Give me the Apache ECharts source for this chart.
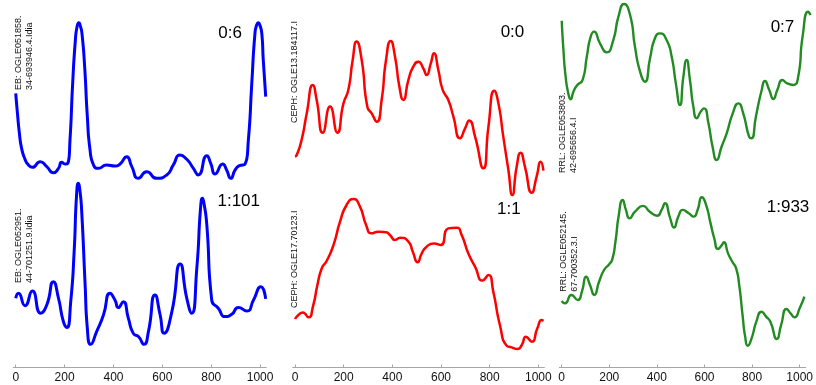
<!DOCTYPE html>
<html>
<head>
<meta charset="utf-8">
<script src="https://cdn.jsdelivr.net/npm/echarts@6/dist/echarts.min.js"></script>
<style>
  html, body { margin: 0; padding: 0; background: #fff; }
  #chart { width: 816px; height: 385px; }
</style>
</head>
<body>
<div id="chart"></div>
<script>
// Phase-folded light curves, normalised flux per star (0 = faintest, 1 = brightest)

// EB: OGLE051858.34-693946.4  (class 0, #6)
const ebTopPhase = [0, 7, 15, 24, 38, 52, 68, 100, 127, 154, 175, 188, 202, 213, 222, 233, 244, 251, 258, 265, 271, 282, 293, 304, 318, 338, 372, 406, 427, 454, 475, 502, 536, 577, 618, 645, 672, 700, 727, 747, 782, 798, 816, 847, 863, 880, 898, 915, 938, 952, 966, 979, 986, 993, 1000, 1007, 1013, 1023];
const ebTopFlux = [0.548, 0.42, 0.292, 0.196, 0.126, 0.09, 0.075, 0.111, 0.079, 0.04, 0.068, 0.107, 0.096, 0.1, 0.249, 0.612, 0.889, 0.975, 1.0, 0.975, 0.932, 0.719, 0.399, 0.186, 0.09, 0.068, 0.09, 0.083, 0.096, 0.143, 0.079, 0.004, 0.047, 0.004, 0.026, 0.09, 0.154, 0.126, 0.068, 0.026, 0.149, 0.1, 0.032, 0.096, 0.058, 0.004, 0.058, 0.085, 0.094, 0.249, 0.612, 0.932, 0.985, 1.0, 0.98, 0.932, 0.761, 0.527];

// EB: OGLE052951.44-701251.9  (class 1, #101)
const ebBotPhase = [0, 11, 38, 68, 102, 127, 154, 175, 195, 209, 225, 239, 249, 256, 263, 270, 284, 293, 307, 331, 359, 386, 406, 420, 440, 461, 481, 502, 525, 543, 570, 591, 607, 639, 673, 700, 720, 741, 757, 764, 771, 782, 802, 829, 857, 884, 911, 946, 973, 1003, 1023];
const ebBotFlux = [0.286, 0.317, 0.24, 0.331, 0.193, 0.244, 0.389, 0.286, 0.141, 0.104, 0.265, 0.576, 0.93, 1.0, 0.95, 0.824, 0.368, 0.099, 0.0, 0.079, 0.182, 0.317, 0.275, 0.228, 0.265, 0.161, 0.068, 0.048, 0.0, 0.079, 0.306, 0.182, 0.068, 0.203, 0.499, 0.286, 0.193, 0.472, 0.86, 0.907, 0.87, 0.741, 0.275, 0.224, 0.172, 0.186, 0.228, 0.207, 0.275, 0.358, 0.282];

// CEPH: OGLE13.184117  (class 0, #0)
const cephTopPhase = [0, 7, 27, 48, 73, 89, 114, 144, 174, 199, 219, 237, 253, 274, 297, 315, 336, 356, 374, 393, 411, 429, 445, 466, 486, 507, 527, 541, 558, 571, 589, 607, 630, 651, 678, 699, 716, 740, 774, 795, 819, 836, 856, 877, 893, 911, 927, 945, 973, 993, 1010, 1021];
const cephTopFlux = [0.249, 0.26, 0.357, 0.53, 0.714, 0.617, 0.405, 0.574, 0.405, 0.595, 0.682, 0.877, 0.996, 0.877, 0.574, 0.53, 0.476, 0.617, 0.877, 1.0, 0.898, 0.703, 0.617, 0.747, 0.833, 0.866, 0.823, 0.779, 0.855, 0.92, 0.812, 0.682, 0.617, 0.509, 0.368, 0.433, 0.483, 0.379, 0.173, 0.444, 0.677, 0.595, 0.379, 0.162, 0.0, 0.184, 0.275, 0.184, 0.015, 0.119, 0.216, 0.158];

// CEPH: OGLE17.70123  (class 1, #1)
const cephBotPhase = [0, 14, 32, 55, 75, 92, 110, 130, 158, 185, 212, 240, 267, 292, 315, 342, 374, 390, 411, 432, 466, 484, 504, 521, 541, 571, 599, 630, 664, 685, 712, 740, 771, 795, 815, 842, 870, 890, 914, 932, 949, 973, 996, 1014, 1021];
const cephBotFlux = [0.2, 0.227, 0.244, 0.211, 0.293, 0.427, 0.538, 0.587, 0.693, 0.849, 0.96, 1.0, 0.949, 0.827, 0.771, 0.782, 0.778, 0.76, 0.727, 0.742, 0.716, 0.649, 0.578, 0.638, 0.682, 0.704, 0.693, 0.804, 0.809, 0.76, 0.638, 0.549, 0.456, 0.493, 0.382, 0.16, 0.022, 0.011, 0.0, 0.027, 0.082, 0.049, 0.138, 0.193, 0.187];

// RRL: OGLE053803.42-695656.4  (class 0, #7)
const rrlTopPhase = [0, 7, 16, 27, 37, 48, 64, 86, 103, 119, 133, 157, 185, 212, 233, 256, 281, 301, 322, 342, 363, 383, 404, 431, 452, 469, 486, 500, 513, 527, 541, 555, 571, 585, 603, 620, 637, 657, 678, 703, 726, 746, 770, 780, 798, 822, 835, 853, 870, 886, 907, 927, 952, 972, 990, 1013, 1023];
const rrlTopFlux = [0.893, 0.705, 0.534, 0.427, 0.389, 0.438, 0.481, 0.513, 0.662, 0.791, 0.823, 0.748, 0.69, 0.769, 0.919, 1.0, 0.929, 0.726, 0.566, 0.502, 0.652, 0.78, 0.812, 0.769, 0.662, 0.491, 0.353, 0.534, 0.641, 0.513, 0.342, 0.267, 0.31, 0.331, 0.235, 0.085, 0.0, 0.085, 0.171, 0.299, 0.363, 0.299, 0.15, 0.139, 0.278, 0.449, 0.506, 0.449, 0.391, 0.449, 0.513, 0.491, 0.481, 0.534, 0.791, 0.951, 0.929];

// RRL: OGLE052145.67-700352.3  (class 1, #933)
const rrlBotPhase = [0, 14, 41, 68, 85, 103, 119, 137, 157, 178, 199, 212, 226, 240, 256, 270, 285, 308, 342, 370, 401, 420, 434, 456, 472, 490, 509, 534, 555, 571, 589, 607, 624, 641, 657, 671, 682, 699, 717, 733, 746, 760, 771, 782, 798, 818, 840, 859, 877, 904, 922, 945, 962, 979, 1000, 1020];
const rrlBotFlux = [0.301, 0.285, 0.342, 0.308, 0.364, 0.465, 0.409, 0.342, 0.431, 0.51, 0.548, 0.578, 0.701, 0.881, 0.982, 0.915, 0.858, 0.903, 0.942, 0.903, 0.876, 0.915, 0.96, 0.858, 0.796, 0.87, 0.915, 0.892, 0.87, 0.915, 1.0, 0.948, 0.836, 0.724, 0.652, 0.674, 0.697, 0.622, 0.566, 0.521, 0.409, 0.207, 0.061, 0.0, 0.049, 0.162, 0.229, 0.196, 0.162, 0.045, 0.139, 0.247, 0.218, 0.191, 0.252, 0.33];

// Tick labels along the phase axis
const phaseTicks = [0, 200, 400, 600, 800, 1000];

// Star identifiers (drawn rotated) and class:index tags
const starNames = [
  ['EB: OGLE051858.', '34-693946.4.Idia'],
  ['EB: OGLE052951.', '44-701251.9.Idia'],
  ['CEPH: OGLE13.184117.I'],
  ['CEPH: OGLE17.70123.I'],
  ['RRL: OGLE053803.', '42-695656.4.I'],
  ['RRL: OGLE052145.', '67-700352.3.I']
];
const classTags = ['0:6', '1:101', '0:0', '1:1', '0:7', '1:933'];

const seriesData = [
  [ebTopPhase, ebTopFlux],
  [ebBotPhase, ebBotFlux],
  [cephTopPhase, cephTopFlux],
  [cephBotPhase, cephBotFlux],
  [rrlTopPhase, rrlTopFlux],
  [rrlBotPhase, rrlBotFlux]
];
const lineColors = ['#0000ff', '#0000ff', '#ff0000', '#ff0000', '#228b22', '#228b22'];
const lineWidths = [3, 3, 2.5, 2.5, 2.4, 2.4];

// Panel layout: [left, width, top of flux=1, height from flux=1 to flux=0]
const panelBoxes = [
  [13.3, 252.9, 22.7, 156.3],
  [13.3, 252.9, 183.3, 161],
  [292.6, 251.8, 41, 154],
  [292.6, 251.8, 199, 150],
  [559.3, 251.8, 4, 156],
  [559.3, 251.8, 197.3, 148.4]
];
const axisY = 367.5;
// Rotated name anchors: [x of first line, baseline-end y]
const nameAnchors = [[19, 90], [19, 283], [295, 123], [295, 308], [562.3, 173], [564, 291.7]];
// Tag anchors: [right edge, middle y]
const tagAnchors = [[242, 33], [260, 201.7], [524.3, 32.3], [520.7, 209], [794.3, 27.3], [809.3, 207.3]];

const grids = [], xAxes = [], yAxes = [], series = [], graphics = [];
panelBoxes.forEach((b, i) => {
  const isBottom = i % 2 === 1;
  // bottom panels stretch down to the shared phase axis; flux scale is kept by lowering the y minimum
  const extra = isBottom ? axisY - (b[2] + b[3]) : 0;
  grids.push({ left: b[0], width: b[1], top: b[2], height: b[3] + extra, containLabel: false });
  xAxes.push({
    gridIndex: i, type: 'value', min: -10, max: 1025,
    show: isBottom, position: 'bottom',
    axisLine: { show: true, onZero: false, lineStyle: { color: '#a6a6a6', width: 1 } },
    axisTick: { show: true, inside: true, length: 3, customValues: phaseTicks, lineStyle: { color: '#a6a6a6' } },
    axisLabel: {
      customValues: phaseTicks, color: '#111', fontSize: 12, margin: 4,
      fontFamily: 'Liberation Sans, Arial, sans-serif',
      formatter: v => String(v)
    },
    splitLine: { show: false }
  });
  yAxes.push({ gridIndex: i, type: 'value', min: -extra / b[3], max: 1, show: false, splitLine: { show: false } });
  const [px, fy] = seriesData[i];
  series.push({
    type: 'line', xAxisIndex: i, yAxisIndex: i,
    data: px.map((p, k) => [p, fy[k]]),
    smooth: 0.6, showSymbol: false, symbol: 'none',
    lineStyle: { color: lineColors[i], width: lineWidths[i] },
    clip: false, silent: true, animation: false
  });
  starNames[i].forEach((line, j) => {
    graphics.push({
      type: 'text', x: nameAnchors[i][0] + j * 11, y: nameAnchors[i][1], rotation: Math.PI / 2,
      style: { text: line, fill: '#111', font: '9px "Liberation Sans", Arial, sans-serif', textAlign: 'left', textVerticalAlign: 'middle' },
      z: 100
    });
  });
  graphics.push({
    type: 'text', x: tagAnchors[i][0], y: tagAnchors[i][1],
    style: { text: classTags[i], fill: '#000', font: '17px "Liberation Sans", Arial, sans-serif', textAlign: 'right', textVerticalAlign: 'middle' },
    z: 100
  });
});

const chart = echarts.init(document.getElementById('chart'), null, { renderer: 'canvas' });
chart.setOption({
  animation: false,
  backgroundColor: '#fff',
  grid: grids, xAxis: xAxes, yAxis: yAxes, series: series,
  graphic: graphics
});
</script>
</body>
</html>
